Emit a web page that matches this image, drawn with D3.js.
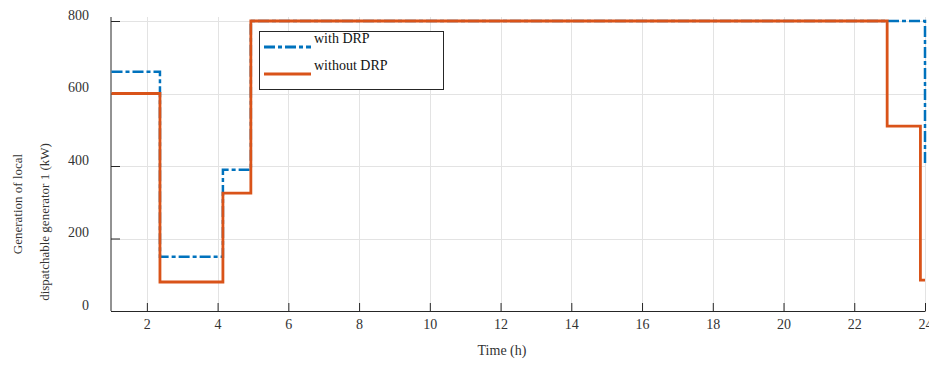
<!DOCTYPE html>
<html>
<head>
<meta charset="utf-8">
<script src="https://cdn.jsdelivr.net/npm/d3@7"></script>
<style>
  body { margin: 0; background: #fff; }
  svg text { font-family: "Liberation Serif", "Times New Roman", serif; }
</style>
</head>
<body>
<div id="chart"></div>
<script>
// step breakpoints (time in h, generation in kW)
const withDrpTime = [1, 2.37, 4.15, 4.94, 24];
const withDrpValue = [660, 150, 390, 800, 400];
const withoutDrpTime = [1, 2.37, 4.15, 4.94, 22.93, 23.87, 24];
const withoutDrpValue = [600, 80, 325, 800, 510, 85, 85];
const xTicks = [2, 4, 6, 8, 10, 12, 14, 16, 18, 20, 22, 24];
const yTicks = [0, 200, 400, 600, 800];
const seriesNames = ["with DRP", "without DRP"];

const width = 929, height = 365;
const plot = { left: 111, right: 925, top: 17, bottom: 311 };
const blue = "#0072BD", orange = "#D95319";
const serif = '"Liberation Serif", "Times New Roman", serif';
const dash = "11,3,4,3";

const svg = d3.select("#chart").append("svg")
  .attr("width", width)
  .attr("height", height);

const x = d3.scaleLinear().domain([1, 24]).range([plot.left + 0.5, plot.right]);
const y = d3.scaleLinear().domain([0, 800]).range([plot.bottom, 21]);

// grid
const grid = svg.append("g").attr("stroke", "#e3e3e3").attr("stroke-width", 1);
grid.selectAll("line.vg").data(xTicks).join("line")
  .attr("class", "vg")
  .attr("x1", d => Math.round(x(d)) + 0.5).attr("x2", d => Math.round(x(d)) + 0.5)
  .attr("y1", plot.top).attr("y2", plot.bottom);
grid.selectAll("line.hg").data(yTicks.filter(d => d > 0)).join("line")
  .attr("class", "hg")
  .attr("x1", plot.left).attr("x2", plot.right)
  .attr("y1", d => Math.round(y(d)) + 0.5).attr("y2", d => Math.round(y(d)) + 0.5);

// axes
const xAxis = svg.append("g")
  .attr("transform", `translate(0,${plot.bottom})`)
  .call(d3.axisBottom(x).tickValues(xTicks).tickSize(-8).tickSizeOuter(0).tickPadding(8));
const yAxis = svg.append("g")
  .attr("transform", `translate(${plot.left},0)`)
  .call(d3.axisLeft(y).tickValues(yTicks).tickSize(-9).tickSizeOuter(0).tickPadding(22));

[xAxis, yAxis].forEach(a => {
  a.attr("font-family", serif).attr("font-size", 14);
  a.select(".domain").attr("stroke", "#262626");
  a.selectAll(".tick line").attr("stroke", "#262626");
  a.selectAll(".tick text")
    .attr("fill", "#333")
    .style("font-size", "14px")
    .style("font-family", serif);
});
yAxis.selectAll(".tick text").attr("dy", "-0.12em");
yAxis.select(".domain").attr("d", `M0,${plot.top}V${plot.bottom}`);

// series
const line = d3.line().curve(d3.curveStepAfter).x(d => x(d[0])).y(d => y(d[1]));
const withDrp = withDrpTime.map((t, i) => [t, withDrpValue[i]]);
const withoutDrp = withoutDrpTime.map((t, i) => [t, withoutDrpValue[i]]);

svg.append("path").datum(withDrp)
  .attr("d", line)
  .attr("fill", "none")
  .attr("stroke", blue)
  .attr("stroke-width", 2.5)
  .attr("stroke-dasharray", dash);
svg.append("path").datum(withoutDrp)
  .attr("d", line)
  .attr("fill", "none")
  .attr("stroke", orange)
  .attr("stroke-width", 2.8);

// legend
const legend = svg.append("g").attr("transform", "translate(259,31)");
legend.append("rect")
  .attr("x", 0.5).attr("y", 0.5).attr("width", 184).attr("height", 58)
  .attr("fill", "#fff").attr("stroke", "#262626").attr("stroke-width", 1);
const items = legend.selectAll("g.item").data(seriesNames).join("g")
  .attr("class", "item")
  .attr("transform", (d, i) => `translate(0,${16 + i * 27})`);
items.append("line")
  .attr("x1", 5).attr("x2", 52).attr("y1", 0).attr("y2", 0)
  .attr("stroke", (d, i) => i === 0 ? blue : orange)
  .attr("stroke-width", 2.8)
  .attr("stroke-dasharray", (d, i) => i === 0 ? dash : null);
items.append("text")
  .attr("x", 55).attr("y", -4)
  .attr("fill", "#111")
  .style("font-size", "14px")
  .text(d => d);

// axis labels
svg.append("text")
  .attr("x", 502).attr("y", 355)
  .attr("text-anchor", "middle").attr("fill", "#333")
  .style("font-size", "14px")
  .text("Time (h)");
svg.append("text")
  .attr("transform", "translate(22,204) rotate(-90)")
  .attr("text-anchor", "middle").attr("fill", "#333")
  .style("font-size", "13px")
  .text("Generation of local");
svg.append("text")
  .attr("transform", "translate(49,222) rotate(-90)")
  .attr("text-anchor", "middle").attr("fill", "#333")
  .style("font-size", "13px")
  .text("dispatchable generator 1 (kW)");
</script>
</body>
</html>
